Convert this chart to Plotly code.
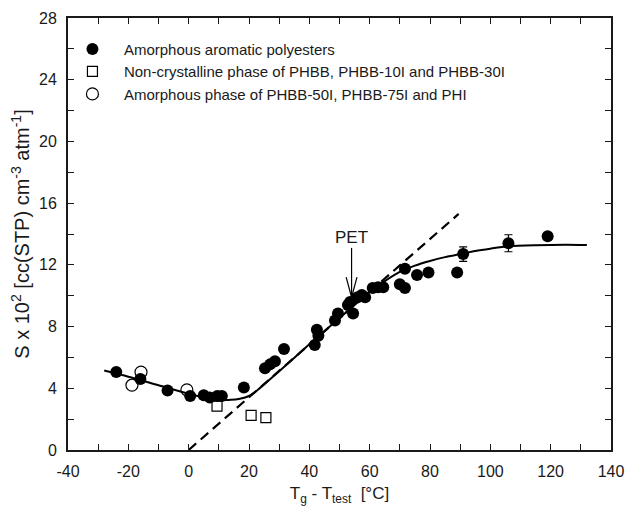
import plotly.graph_objects as go

# Amorphous aromatic polyesters (filled circles)
amo_x = [-24, -16, -7, 0.5, 5, 7, 9.5, 11, 18.3, 25.3, 27, 28.6, 31.6,
         41.8, 42.5, 43, 48.5, 49.5, 52.8, 53.5, 54.5, 56, 57.4, 58.5, 61, 62.8, 64.5,
         70, 71.7, 71.7, 75.7, 79.5, 89, 91, 106, 119]
amo_y = [5.05, 4.6, 3.85, 3.5, 3.55, 3.4, 3.5, 3.5, 4.05, 5.3, 5.55, 5.75, 6.55,
         6.8, 7.8, 7.4, 8.4, 8.85, 9.4, 9.6, 8.85, 9.9, 10.05, 9.9, 10.5, 10.55, 10.55,
         10.75, 11.75, 10.5, 11.35, 11.5, 11.5, 12.7, 13.4, 13.85]
amo_err = [0, 0, 0, 0, 0, 0, 0, 0, 0, 0, 0, 0, 0,
           0, 0, 0, 0, 0, 0, 0, 0, 0, 0, 0, 0, 0, 0,
           0, 0, 0, 0, 0, 0, 0.47, 0.55, 0]

# Non-crystalline phase (open squares)
ncr_x = [9.4, 20.7, 25.6]
ncr_y = [2.85, 2.25, 2.1]

# Amorphous phase (open circles)
amp_x = [-18.8, -15.8, -0.6]
amp_y = [4.2, 5.05, 3.9]

# Fitted solid curve
fit_x = [-28, -20, -10, 0, 5, 10, 14, 17, 20, 22, 30, 40, 50, 55, 60, 65, 70, 75,
         80, 85, 90, 95, 100, 106, 115, 125, 132]
fit_y = [5.15, 4.75, 4.2, 3.65, 3.42, 3.28, 3.25, 3.32, 3.5, 3.75, 5.1, 6.85, 8.55,
         9.4, 10.25, 10.95, 11.55, 11.95, 12.25, 12.5, 12.7, 12.9, 13.05, 13.2, 13.27,
         13.3, 13.28]

# Dashed linear line
dash_x = [0, 89.5]
dash_y = [0, 15.3]

# PET arrow
pet_x = 54
pet_text_y = 13.8
pet_arrow_top = 13.1
pet_arrow_tip = 9.9
pet_head_y = 11.2
pet_head_dx = 1.8

x_ticks = [-40, -20, 0, 20, 40, 60, 80, 100, 120, 140]
x_labels = ["-40", "-20", "0", "20", "40", "60", "80", "100", "120", "140"]
y_ticks = [0, 4, 8, 12, 16, 20, 24, 28]
y_labels = ["0", "4", "8", "12", "16", "20", "24", "28"]

FONT = "Liberation Sans, Arial, sans-serif"
INK = "#1a1a1a"

fig = go.Figure()

fig.add_trace(go.Scatter(x=fit_x, y=fit_y, mode="lines", line=dict(color="black", width=2, shape="spline", smoothing=0.8),
                         showlegend=False, hoverinfo="skip"))
fig.add_trace(go.Scatter(x=dash_x, y=dash_y, mode="lines", line=dict(color="black", width=2.2, dash="10px,6px"),
                         showlegend=False, hoverinfo="skip"))

fig.add_trace(go.Scatter(x=amo_x, y=amo_y, mode="markers", name="Amorphous aromatic polyesters",
                         marker=dict(symbol="circle", size=12, color="black"),
                         error_y=dict(type="data", array=amo_err, visible=True, color="black", thickness=1.2, width=4)))
fig.add_trace(go.Scatter(x=ncr_x, y=ncr_y, mode="markers", name="Non-crystalline phase of PHBB, PHBB-10I and PHBB-30I",
                         marker=dict(symbol="square-open", size=10, color="black", line=dict(width=1.2))))
fig.add_trace(go.Scatter(x=amp_x, y=amp_y, mode="markers", name="Amorphous phase of PHBB-50I, PHBB-75I and PHI",
                         marker=dict(symbol="circle-open", size=12, color="black", line=dict(width=1.2))))

# PET arrow (line + open V head)
fig.add_shape(type="line", x0=pet_x, x1=pet_x, y0=pet_arrow_top, y1=pet_arrow_tip, line=dict(color="black", width=1.2))
fig.add_shape(type="line", x0=pet_x - pet_head_dx, x1=pet_x, y0=pet_head_y, y1=pet_arrow_tip, line=dict(color="black", width=1.2))
fig.add_shape(type="line", x0=pet_x + pet_head_dx, x1=pet_x, y0=pet_head_y, y1=pet_arrow_tip, line=dict(color="black", width=1.2))
fig.add_annotation(x=pet_x, y=pet_text_y, text="PET", showarrow=False, yanchor="middle",
                   font=dict(size=17, color=INK, family=FONT))

axis_common = dict(
    showline=True, linecolor=INK, linewidth=2, mirror="ticks",
    ticks="inside", ticklen=6, tickwidth=1.2, tickcolor=INK,
    showgrid=False, zeroline=False, automargin=False,
    tickfont=dict(size=16, color=INK, family=FONT),
)

fig.update_xaxes(range=[-40, 140], tickvals=x_ticks, ticktext=x_labels, ticklabelstandoff=6,
                 minor=dict(dtick=10, ticks="inside", ticklen=6, tickwidth=1.2, tickcolor=INK),
                 title=dict(text="T<sub>g</sub> - T<sub>test</sub>  [°C]", font=dict(size=17, color=INK, family=FONT), standoff=8),
                 **axis_common)
fig.update_yaxes(range=[0, 28], tickvals=y_ticks, ticktext=y_labels, ticklabelstandoff=6,
                 minor=dict(dtick=2, ticks="inside", ticklen=6, tickwidth=1.2, tickcolor=INK),
                 title=dict(text="S x 10<sup>2</sup> [cc(STP) cm<sup>-3</sup> atm<sup>-1</sup>]", font=dict(size=20, color=INK, family=FONT), standoff=4),
                 **axis_common)

fig.update_layout(
    width=632, height=513,
    margin=dict(l=68, r=21, t=18, b=63),
    paper_bgcolor="white", plot_bgcolor="white",
    font=dict(family=FONT, color=INK),
    legend=dict(x=-0.013, y=0.966, xanchor="left", yanchor="top", bgcolor="rgba(0,0,0,0)",
                font=dict(size=15, color=INK, family=FONT), tracegroupgap=0, itemwidth=53),
)

fig.write_html("out.html", config={"displayModeBar": False},
               post_script="document.body.style.margin='0';document.body.style.overflow='hidden';")
